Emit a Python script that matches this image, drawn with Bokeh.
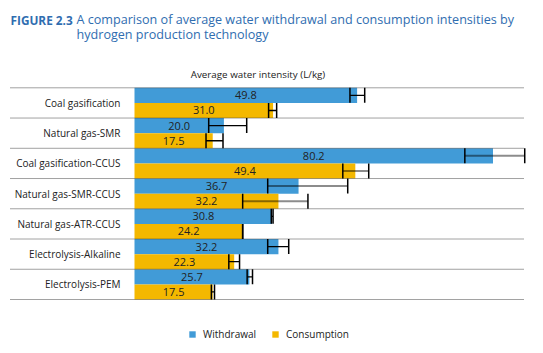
from bokeh.plotting import figure
from bokeh.models import (ColumnDataSource, Range1d, Whisker, TeeHead, Label,
                          Legend, LegendItem)
from bokeh.core.properties import value
from bokeh.embed import file_html
from bokeh.resources import INLINE

# ---------------- data ----------------
categories = ["Coal gasification", "Natural gas-SMR", "Coal gasification-CCUS",
              "Natural gas-SMR-CCUS", "Natural gas-ATR-CCUS",
              "Electrolysis-Alkaline", "Electrolysis-PEM"]
withdrawal = [49.8, 20.0, 80.2, 36.7, 30.8, 32.2, 25.7]
consumption = [31.0, 17.5, 49.4, 32.2, 24.2, 22.3, 17.5]
withdrawal_low = [48.2, 16.6, 73.9, 29.8, 30.6, 29.8, 25.2]
withdrawal_high = [51.5, 25.1, 87.3, 47.7, 31.0, 34.5, 26.4]
consumption_low = [30.0, 16.0, 46.6, 24.2, 24.2, 21.1, 17.2]
consumption_high = [31.8, 19.8, 52.4, 38.8, 24.2, 23.5, 17.9]
series_names = ["Withdrawal", "Consumption"]
title_bold = "FIGURE 2.3"
title_line1 = "A comparison of average water withdrawal and consumption intensities by"
title_line2 = "hydrogen production technology"
axis_title = "Average water intensity (L/kg)"

# ---------------- styles / layout ----------------
BLUE = "#419BD7"
YELLOW = "#F4B800"
TITLE_BLUE = "#2F6DB0"
FONT = "Open Sans"
TXT = "#222222"
W, H = 543, 353
# error-bar stem styles per row (CCUS rows drawn with a translucent stem)
stem_alpha = [1, 1, 0.45, 0.45, 1, 1, 1]
stem_width = [1.3, 1.3, 2, 2, 1.3, 1.3, 1.3]

n = len(categories)
rows = list(range(n))
w_y = [r + 0.25 for r in rows]
c_y = [r + 0.75 for r in rows]

wsrc = ColumnDataSource(dict(y=w_y, v=withdrawal, mid=[v / 2 for v in withdrawal],
                             lo=withdrawal_low, hi=withdrawal_high,
                             lab=[f"{v:.1f}" for v in withdrawal],
                             la=stem_alpha, lw=stem_width))
csrc = ColumnDataSource(dict(y=c_y, v=consumption, mid=[v / 2 for v in consumption],
                             lo=consumption_low, hi=consumption_high,
                             lab=[f"{v:.1f}" for v in consumption],
                             la=stem_alpha, lw=stem_width))
catsrc = ColumnDataSource(dict(y=[r + 0.5 for r in rows], x=[0] * n, name=categories))

# horizontal mapping: value 0 at px 134, 4.47 px per unit
ppu = 4.47
x0_px = 134
# vertical mapping: rows between px 87 and 299
top_px, bot_px = 87.3, 299.0
rpx = (bot_px - top_px) / n
y_top = -top_px / rpx
y_bot = n + (H - bot_px) / rpx

sep_src = ColumnDataSource(dict(y=list(range(n + 1)),
                                x0=[(10 - x0_px) / ppu] * (n + 1),
                                x1=[(523 - x0_px) / ppu] * (n + 1)))

p = figure(width=W, height=H, output_backend="svg", toolbar_location=None,
           x_axis_type=None, y_axis_type=None,
           x_range=Range1d(-x0_px / ppu, (W - x0_px) / ppu),
           y_range=Range1d(y_bot, y_top),
           min_border=0, min_border_left=0, min_border_right=0,
           min_border_top=0, min_border_bottom=0,
           outline_line_color=None, background_fill_color="white",
           border_fill_color="white")
p.grid.visible = False

rw = p.hbar(y="y", right="v", left=0, height=0.5, source=wsrc,
            fill_color=BLUE, line_color=None)
rc = p.hbar(y="y", right="v", left=0, height=0.5, source=csrc,
            fill_color=YELLOW, line_color=None)

# row separators (dotted)
p.segment(x0="x0", x1="x1", y0="y", y1="y", source=sep_src,
          line_color="#444444", line_width=1, line_dash="1 1")

for src in (wsrc, csrc):
    wk = Whisker(source=src, base="y", lower="lo", upper="hi", dimension="width",
                 line_color="black", line_width="lw", line_alpha="la", level="overlay",
                 upper_head=TeeHead(size=15, line_color="black", line_width=1.5),
                 lower_head=TeeHead(size=15, line_color="black", line_width=1.5))
    p.add_layout(wk)
    p.text(x="mid", y="y", text="lab", source=src, text_align="center",
           text_baseline="middle", text_font=value(FONT), text_font_size="11px",
           text_color=TXT)

p.text(x="x", y="y", text="name", source=catsrc, x_offset=-14, text_align="right",
       text_baseline="middle", text_font=value(FONT), text_font_size="10px",
       text_color=TXT)

# titles (screen units, frame == whole canvas, y measured from bottom)
p.add_layout(Label(x=10, y=H - 19, x_units="screen", y_units="screen", text=title_bold,
                   text_font=FONT, text_font_style="bold", text_font_size="11.8px",
                   text_color=TITLE_BLUE, text_baseline="alphabetic"))
p.add_layout(Label(x=76, y=H - 19, x_units="screen", y_units="screen", text=title_line1,
                   text_font=FONT, text_font_size="12.6px",
                   text_color=TITLE_BLUE, text_baseline="alphabetic"))
p.add_layout(Label(x=76, y=H - 33.5, x_units="screen", y_units="screen", text=title_line2,
                   text_font=FONT, text_font_size="12.6px",
                   text_color=TITLE_BLUE, text_baseline="alphabetic"))
p.add_layout(Label(x=257.5, y=H - 74, x_units="screen", y_units="screen", text=axis_title,
                   text_font=FONT, text_font_size="9.8px", text_align="center",
                   text_color=TXT, text_baseline="alphabetic"))

legend = Legend(items=[LegendItem(label=series_names[0], renderers=[rw]),
                       LegendItem(label=series_names[1], renderers=[rc])],
                orientation="horizontal", location=(188, H - 341),
                glyph_width=8, glyph_height=8, label_height=10, label_standoff=7,
                spacing=15, padding=0, margin=0,
                label_text_font=FONT, label_text_font_size="10px",
                label_text_color=TXT, border_line_alpha=0,
                background_fill_alpha=0)
p.add_layout(legend, "center")

open("out.html", "w").write(file_html(p, INLINE))
